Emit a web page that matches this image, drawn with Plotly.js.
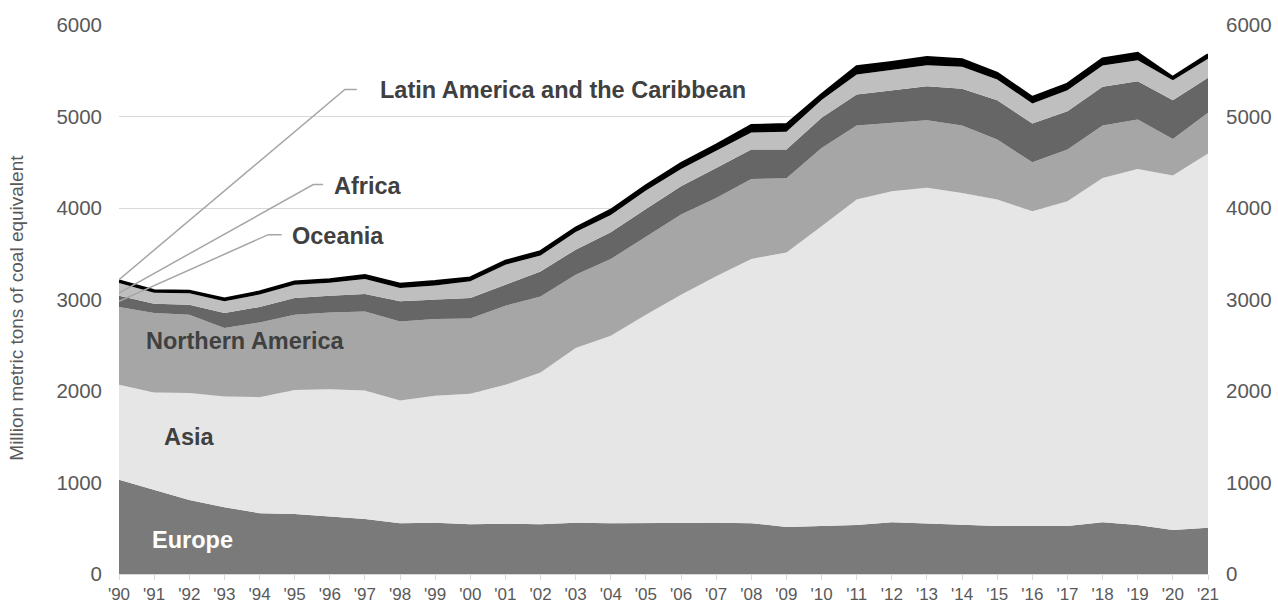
<!DOCTYPE html>
<html>
<head>
<meta charset="utf-8">
<script src="https://cdn.plot.ly/plotly-3.0.1.min.js"></script>
<style>html,body{margin:0;padding:0;background:#fff;}#chart{width:1278px;height:606px;}</style>
</head>
<body>
<div id="chart"></div>
<script>
const years = [1990,1991,1992,1993,1994,1995,1996,1997,1998,1999,2000,2001,2002,2003,2004,2005,2006,2007,2008,2009,2010,2011,2012,2013,2014,2015,2016,2017,2018,2019,2020,2021];
const yearLabels = ["'90","'91","'92","'93","'94","'95","'96","'97","'98","'99","'00","'01","'02","'03","'04","'05","'06","'07","'08","'09","'10","'11","'12","'13","'14","'15","'16","'17","'18","'19","'20","'21"];
const europe = [1030,920,810,730,665,655,625,600,555,560,545,550,545,560,555,558,560,560,555,515,525,535,565,550,535,525,525,525,565,535,480,505];
const asia = [1038,1064,1167,1210,1268,1355,1395,1405,1341,1387,1425,1518,1657,1909,2049,2275,2492,2693,2888,3000,3275,3557,3617,3670,3630,3567,3439,3549,3764,3892,3874,4090];
const northernAmerica = [850,868,856,748,816,823,839,865,864,839,822,864,832,802,839,850,876,857,875,810,857,809,748,739,736,656,536,565,572,540,401,445];
const oceania = [123,102,110,164,169,183,182,190,220,212,224,230,273,274,292,307,310,328,320,314,328,339,358,372,401,430,423,419,423,419,423,383];
const africa = [138,120,126,129,136,146,143,164,147,156,183,219,175,193,189,200,189,186,186,195,195,219,219,230,241,226,219,230,234,230,219,208];
const latinAmerica = [25,25,25,28,30,32,35,40,42,45,40,40,44,44,55,55,62,65,80,80,60,88,87,87,80,69,69,69,73,76,33,47];

const series = [
  {name:'Europe', y:europe, color:'#7a7a7a'},
  {name:'Asia', y:asia, color:'#e6e6e6'},
  {name:'Northern America', y:northernAmerica, color:'#a6a6a6'},
  {name:'Oceania', y:oceania, color:'#666666'},
  {name:'Africa', y:africa, color:'#bfbfbf'},
  {name:'Latin America and the Caribbean', y:latinAmerica, color:'#000000'}
];

const traces = series.map((s, i) => ({
  type:'scatter', mode:'lines', x:years, y:s.y, name:s.name,
  stackgroup:'one', fillcolor:s.color,
  line:{width: i === series.length-1 ? 2.5 : 0, color:s.color},
  hoverinfo:'x+y+name', showlegend:false
}));
traces.push({type:'scatter', mode:'none', x:[years[0]], y:[0], yaxis:'y2', hoverinfo:'skip', showlegend:false});

const labelFont = {family:'Liberation Sans, Arial, sans-serif', size:23.5, color:'#404040'};
const lineColor = '#a6a6a6';

const layout = {
  width:1278, height:606,
  margin:{l:119, r:70, t:25, b:32},
  paper_bgcolor:'#fff', plot_bgcolor:'#fff',
  font:{family:'Liberation Sans, Arial, sans-serif', color:'#595959'},
  xaxis:{range:[1990,2021], tickvals:years, ticktext:yearLabels, tickfont:{size:17, color:'#595959'},
    showgrid:false, zeroline:false, showline:true, linecolor:'#d9d9d9', linewidth:1,
    ticks:'outside', ticklen:5, tickcolor:'#d9d9d9', ticklabelstandoff:0, fixedrange:true},
  yaxis:{range:[0,6000], tickvals:[0,1000,2000,3000,4000,5000,6000], tickfont:{size:20.5, color:'#595959'},
    showgrid:true, gridcolor:'#d9d9d9', gridwidth:1, zeroline:false, showline:false,
    ticks:'', ticklabelstandoff:16, fixedrange:true},
  yaxis2:{range:[0,6000], overlaying:'y', side:'right', tickvals:[0,1000,2000,3000,4000,5000,6000],
    tickfont:{size:20.5, color:'#595959'}, showgrid:false, zeroline:false, showline:false,
    ticks:'', ticklabelstandoff:17, fixedrange:true},
  annotations:[
    {text:'<b>Europe</b>', x:1992.1, y:370, xref:'x', yref:'y', showarrow:false, font:Object.assign({}, labelFont, {color:'#ffffff'}), xanchor:'center'},
    {text:'<b>Asia</b>', x:1992.0, y:1500, xref:'x', yref:'y', showarrow:false, font:labelFont, xanchor:'center'},
    {text:'<b>Northern America</b>', x:1993.6, y:2545, xref:'x', yref:'y', showarrow:false, font:labelFont, xanchor:'center'},
    {text:'<b>Oceania</b>', x:1994.87, y:3690, xref:'x', yref:'y', showarrow:false, font:labelFont, xanchor:'left'},
    {text:'<b>Africa</b>', x:1996.05, y:4240, xref:'x', yref:'y', showarrow:false, font:labelFont, xanchor:'left'},
    {text:'<b>Latin America and the Caribbean</b>', x:1997.37, y:5295, xref:'x', yref:'y', showarrow:false, font:labelFont, xanchor:'left'},
    {text:'Million metric tons of coal equivalent', xref:'paper', yref:'paper', x:-0.0937, y:0.485, textangle:-90, showarrow:false,
      font:{size:19, color:'#595959'}, xanchor:'center', yanchor:'middle'}
  ]
};

// leader lines (data coordinates)
const leaders = [
  {pts:[[1990,2979],[1994.25,3709],[1994.63,3709]]},
  {pts:[[1990,3071],[1995.53,4256],[1995.81,4256]]},
  {pts:[[1990,3217],[1996.43,5295],[1996.77,5295]]}
];
layout.shapes = leaders.map(l => ({
  type:'path', xref:'x', yref:'y',
  path:'M' + l.pts.map(p => p[0] + ',' + p[1]).join(' L'),
  line:{color:lineColor, width:1.5}
}));

Plotly.newPlot('chart', traces, layout, {displayModeBar:false, staticPlot:true});
</script>
</body>
</html>
